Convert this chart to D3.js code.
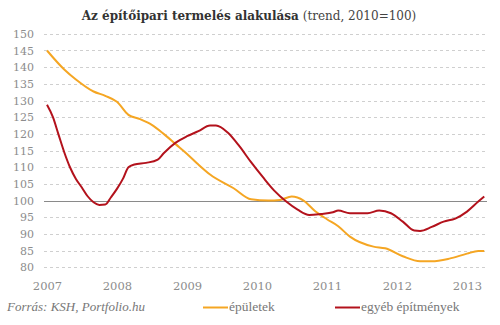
<!DOCTYPE html>
<html><head><meta charset="utf-8">
<script src="https://cdn.jsdelivr.net/npm/d3@7"></script>
<style>body{margin:0;background:#fff}svg{display:block}</style>
</head><body>
<script>
const yTicks = [80,85,90,95,100,105,110,115,120,125,130,135,140,145,150];
const xTickYears = [2007,2008,2009,2010,2011,2012,2013];
// month index from Jan 2007
const epuletekMonths = [0,3,5,8,10,12,14,16,18,20,22,24,26,28,32,35,38,40,42,44,46,48,50,52,56,58,61,64,66,69,72,74,75];
const epuletekValues = [145,139.3,136.3,132.7,131.4,129.6,125.7,124.4,122.7,120,117,114,110.8,107.8,103.7,100.4,100,100.2,101.2,100,96.8,94.4,92.3,89.2,86.2,85.7,83.3,81.8,81.8,82.6,84.1,84.9,84.9];
const egyebMonths = [0,1,2,3,4,5,6,7,8,9,10,11,12,13,14,15,17,19,20,22,24,26,28,29,31,33,35,37,39,41,43,45,47,49,50,52,55,57,59,61,63,64,66,68,70,72,74,75];
const egyebValues = [128.7,125,120,114.5,110,106.5,104,101.3,99.5,98.7,98.8,101,103.5,106.5,110,110.8,111.3,112.3,114.2,117.3,119.3,120.8,122.5,122.5,120.4,116.3,111.5,107,103,99.8,97.3,95.7,96,96.5,97,96.2,96.2,97,96.2,93.7,91,90.9,92.1,93.7,94.6,96.7,99.7,101.2];
const seriesNames = ["épületek","egyéb építmények"];
const colors = ["#f5a623","#b3121c"];

const W=500,H=325;
const svg=d3.select("body").append("svg").attr("width",W).attr("height",H);
const x=d3.scaleTime().domain([new Date(2007,0,1),new Date(2013,0,1)]).range([47,467]);
const y=d3.scaleLinear().domain([80,150]).range([267.3,33.8]);
const mdate=m=>new Date(2007,m,1);
const serif="'Liberation Serif','DejaVu Serif',serif";
const dserif="'DejaVu Serif',serif";

// grid
svg.append("g").selectAll("line").data(yTicks.filter(v=>v!==100)).join("line")
  .attr("x1",44).attr("x2",487).attr("y1",d=>Math.round(y(d))+0.5).attr("y2",d=>Math.round(y(d))+0.5)
  .attr("stroke","#cfcfcf").attr("stroke-dasharray","3,3");
svg.append("line").attr("x1",44).attr("x2",487).attr("y1",Math.round(y(100))+0.5).attr("y2",Math.round(y(100))+0.5)
  .attr("stroke","#8a8a8a").attr("stroke-width",1);

// y axis
const ya=svg.append("g").attr("transform","translate(34,0)").call(d3.axisLeft(y).tickValues(yTicks).tickSize(0).tickPadding(0));
ya.select(".domain").remove();
ya.selectAll("text").attr("font-family",dserif).attr("font-size",11).attr("fill","#8c8c8c");

// x axis
const xa=svg.append("g").attr("transform","translate(0,282)").call(d3.axisBottom(x).tickValues(xTickYears.map(yr=>new Date(yr,0,1))).tickFormat(d3.timeFormat("%Y")).tickSize(0).tickPadding(0));
xa.select(".domain").remove();
xa.selectAll("text").attr("font-family",dserif).attr("font-size",11.5).attr("fill","#8c8c8c");

const line=d3.line().x(d=>x(mdate(d[0]))).y(d=>y(d[1])).curve(d3.curveMonotoneX);
const s1=epuletekMonths.map((m,i)=>[m,epuletekValues[i]]);
const s2=egyebMonths.map((m,i)=>[m,egyebValues[i]]);
svg.append("path").datum(s1).attr("d",line).attr("fill","none").attr("stroke",colors[0]).attr("stroke-width",2);
svg.append("path").datum(s2).attr("d",line).attr("fill","none").attr("stroke",colors[1]).attr("stroke-width",2);

// title
const t=svg.append("text").attr("x",249).attr("y",20).attr("text-anchor","middle").attr("font-family",dserif).attr("fill","#333");
t.append("tspan").attr("font-weight","bold").attr("font-size",12).text("Az építőipari termelés alakulása");
t.append("tspan").attr("font-size",12).attr("fill","#444").text(" (trend, 2010=100)");

// footer
svg.append("text").attr("x",7).attr("y",311).attr("font-family",serif).attr("font-style","italic").attr("font-size",13).attr("fill","#777").text("Forrás: KSH, Portfolio.hu");
const leg=[[203,229],[335,361]];
seriesNames.forEach((n,i)=>{
  svg.append("line").attr("x1",leg[i][0]).attr("x2",leg[i][1]-1).attr("y1",307.5).attr("y2",307.5).attr("stroke",colors[i]).attr("stroke-width",2);
  svg.append("text").attr("x",leg[i][1]).attr("y",311).attr("font-family",serif).attr("font-size",13.5).attr("fill","#777").text(n);
});
</script>
</body></html>
